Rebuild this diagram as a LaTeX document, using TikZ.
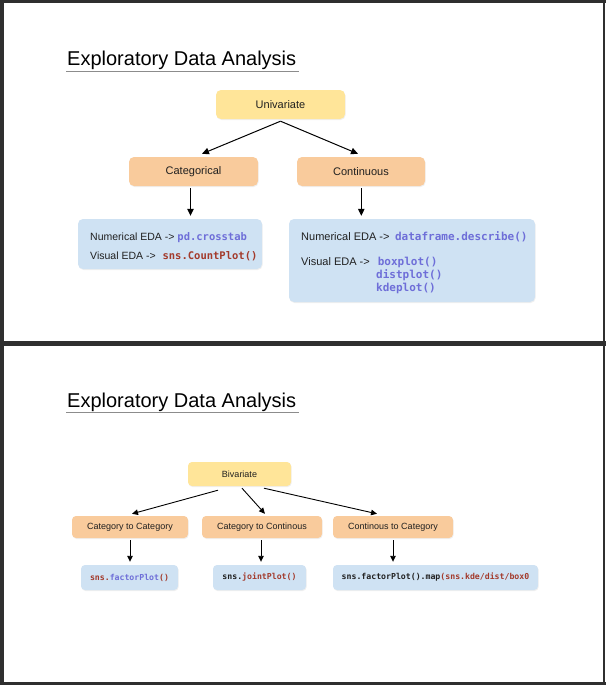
\documentclass[tikz,border=0pt]{standalone}
\usepackage{fontspec}
\setmainfont{Liberation Sans}
\setmonofont{DejaVu Sans Mono}
\usetikzlibrary{arrows.meta,shadows}
\definecolor{framec}{HTML}{2F2F2F}
\definecolor{ylw}{HTML}{FFE599}
\definecolor{org}{HTML}{F9CB9C}
\definecolor{blu}{HTML}{CFE2F3}
\definecolor{cpur}{HTML}{6E6ED8}
\definecolor{cred}{HTML}{A33A2B}
\definecolor{uline}{HTML}{8C8C8C}
\definecolor{txtc}{HTML}{202020}
\newcommand\cd[2]{{\ttfamily\bfseries\color{#1}#2}}
\begin{document}
\begin{tikzpicture}[x=1pt,y=-1pt,
  boxbase/.style={rounded corners=5pt, inner sep=0pt, text=txtc,
    drop shadow={opacity=0.12, shadow xshift=0.6pt, shadow yshift=-1pt}},
  ybox/.style={boxbase, fill=ylw},
  obox/.style={boxbase, fill=org},
  bbox/.style={boxbase, fill=blu},
  arr/.style={-{Triangle[length=7pt,width=6.5pt]}, line width=1pt, black},
  sarr/.style={-{Triangle[length=6pt,width=5.5pt]}, line width=0.9pt, black},
  ttl/.style={font=\fontsize{20}{24}\selectfont, text=black, inner sep=0pt, anchor=base west},
  txt/.style={font=\fontsize{10.5}{12}\selectfont, text=txtc, inner sep=0pt, anchor=base west},
]
% frame
\fill[framec] (0,0) rectangle (606,685);
\fill[white] (3.5,3) rectangle (602.7,341);
\fill[white] (3.5,346) rectangle (602.7,682);
\fill[white] (605,3) rectangle (606,341);
\fill[white] (605,346) rectangle (606,682);
\useasboundingbox (0,0) rectangle (606,685);

% ---------- panel 1 ----------
\node[ttl] (t1) at (67,66) {Exploratory Data Analysis};
\draw[uline, line width=0.9pt] (66,71) -- (299,71);

\node[ybox, minimum width=129pt, minimum height=29pt, font=\fontsize{11}{13}\selectfont] (uni) at (280.5,104.5) {Univariate};
\node[obox, minimum width=129pt, minimum height=29pt, font=\fontsize{11}{13}\selectfont] (cat) at (193.5,171.5) {Categorical};
\node[obox, minimum width=128pt, minimum height=29pt, font=\fontsize{11}{13}\selectfont] (con) at (361,171.5) {Continuous};

\node[bbox, minimum width=184pt, minimum height=50pt] (bl) at (170,244) {};
\node[bbox, minimum width=246pt, minimum height=83pt] (br) at (412,260.5) {};

\draw[arr] ([yshift=-2pt]uni.south) -- ([xshift=8.5pt,yshift=3pt]cat.north);
\draw[arr] ([yshift=-2pt]uni.south) -- ([xshift=-3pt,yshift=3pt]con.north);
\draw[arr] ([xshift=-3pt,yshift=-2pt]cat.south) -- ([xshift=-3pt,yshift=3pt]cat.south |- bl.north);
\draw[arr] ([xshift=0.3pt,yshift=-2pt]con.south) -- ([xshift=0.3pt,yshift=3pt]con.south |- br.north);

\node[txt] (l1) at (90,240) {Numerical EDA -> \cd{cpur}{pd.crosstab}};
\node[txt] (l2) at (90,259) {Visual EDA -> \hspace{4pt}\cd{cred}{sns.CountPlot()}};

\node[txt, font=\fontsize{11}{13}\selectfont] (r1) at (301,240) {Numerical EDA -> \hspace{2.5pt}\cd{cpur}{dataframe.describe()}};
\node[txt, font=\fontsize{11}{13}\selectfont] (r2) at (301,265) {Visual EDA -> \hspace{5pt}\cd{cpur}{boxplot()}};
\node[txt, font=\fontsize{11}{13}\selectfont] (r3) at (376,278) {\cd{cpur}{distplot()}};
\node[txt, font=\fontsize{11}{13}\selectfont] (r4) at (376,291) {\cd{cpur}{kdeplot()}};

% ---------- panel 2 ----------
\node[ttl] (t2) at (67,407) {Exploratory Data Analysis};
\draw[uline, line width=0.9pt] (66,412) -- (299,412);

\node[ybox, rounded corners=4pt, minimum width=103pt, minimum height=24pt, font=\fontsize{9}{11}\selectfont] (biv) at (239.5,474) {Bivariate};
\node[obox, rounded corners=4pt, minimum width=116pt, minimum height=22pt, font=\fontsize{9}{11}\selectfont] (cc) at (130,527) {Category to Category};
\node[obox, rounded corners=4pt, minimum width=120pt, minimum height=22pt, font=\fontsize{9}{11}\selectfont] (ccn) at (262,527) {Category to Continous};
\node[obox, rounded corners=4pt, minimum width=120pt, minimum height=22pt, font=\fontsize{9}{11}\selectfont] (ctc) at (393,527) {Continous to Category};

\node[bbox, rounded corners=4pt, minimum width=97pt, minimum height=25pt, font=\fontsize{8.2}{10}\selectfont] (b1) at (129.5,577.5) {\cd{cred}{sns.}\cd{cpur}{factorPlot}\cd{cred}{()}};
\node[bbox, rounded corners=4pt, minimum width=93pt, minimum height=25pt, font=\fontsize{8.2}{10}\selectfont] (b2) at (259.5,577.5) {\cd{txtc}{sns.}\cd{cred}{jointPlot()}};
\node[bbox, rounded corners=4pt, minimum width=205pt, minimum height=25pt, font=\fontsize{8.2}{10}\selectfont] (b3) at (435.5,577.5) {\cd{txtc}{sns.factorPlot().map}\cd{cred}{(sns.kde/dist/box0}};

\draw[sarr] ([xshift=-21.5pt,yshift=-4pt]biv.south) -- ([xshift=2pt,yshift=2pt]cc.north);
\draw[sarr] ([xshift=2.5pt,yshift=-2pt]biv.south) -- ([xshift=3pt,yshift=2pt]ccn.north);
\draw[sarr] ([xshift=24.5pt,yshift=-2pt]biv.south) -- ([xshift=-16pt,yshift=2pt]ctc.north);
\draw[sarr] ([yshift=-2pt]cc.south) -- ([yshift=3pt]cc.south |- b1.north);
\draw[sarr] ([xshift=-1pt,yshift=-2pt]ccn.south) -- ([xshift=-1pt,yshift=3pt]ccn.south |- b2.north);
\draw[sarr] ([yshift=-2pt]ctc.south) -- ([yshift=3pt]ctc.south |- b3.north);
\end{tikzpicture}
\end{document}
